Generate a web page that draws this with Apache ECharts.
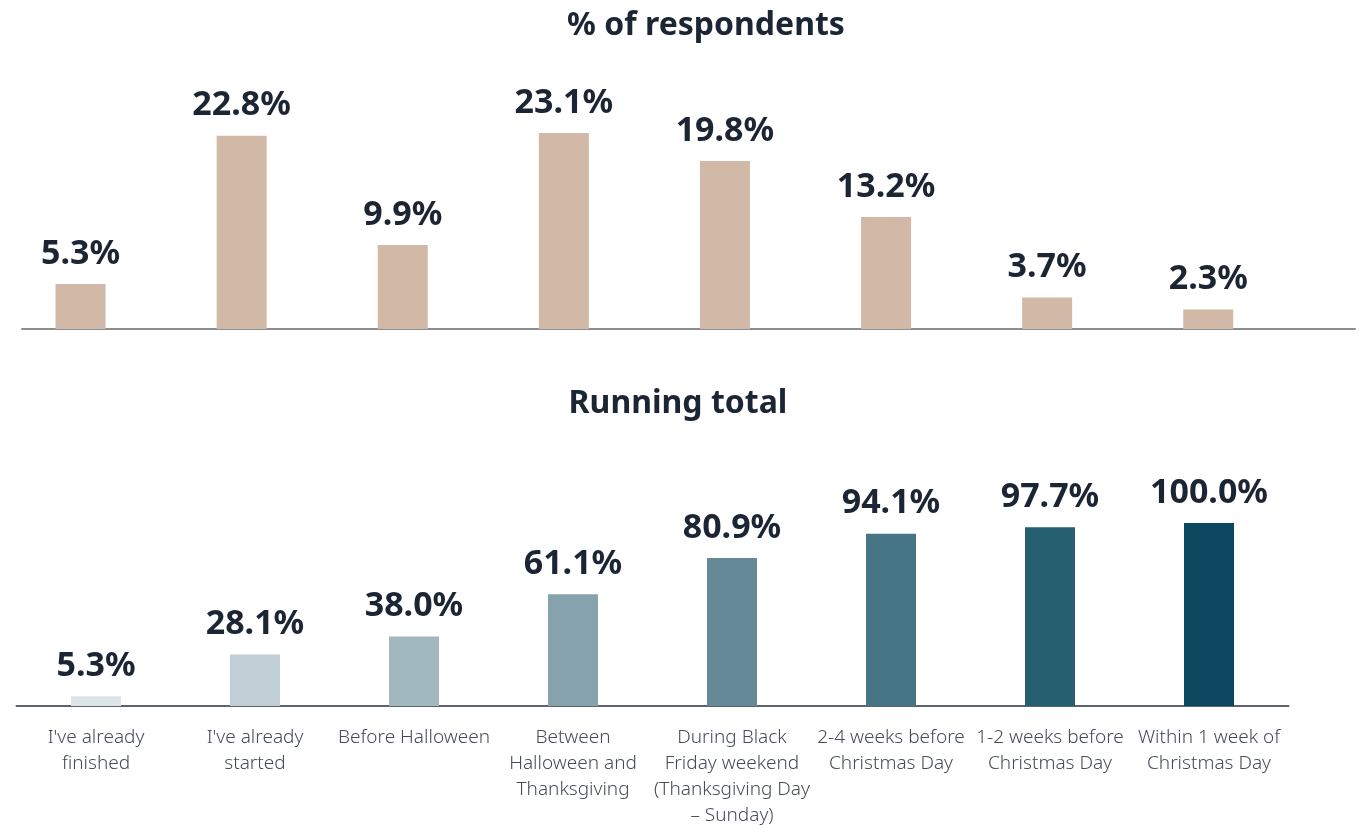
<!DOCTYPE html>
<html>
<head>
<meta charset="utf-8">
<title>Holiday shopping start</title>
<script src="https://cdn.jsdelivr.net/npm/echarts@6/dist/echarts.min.js"></script>
<style>
  html, body { margin: 0; padding: 0; background: #fff; }
  #container { width: 1360px; height: 829px; }
</style>
</head>
<body>
<div id="container"></div>
<script>
  // categories (x axis tick labels, as broken in the original)
  const categories = [
    "I've already\nfinished",
    "I've already\nstarted",
    'Before Halloween',
    'Between\nHalloween and\nThanksgiving',
    'During Black\nFriday weekend\n(Thanksgiving Day\n– Sunday)',
    '2-4 weeks before\nChristmas Day',
    '1-2 weeks before\nChristmas Day',
    'Within 1 week of\nChristmas Day'
  ]
  // % of respondents
  const shareData = [5.3, 22.8, 9.9, 23.1, 19.8, 13.2, 3.7, 2.3]
  // running total
  const totalData = [5.3, 28.1, 38.0, 61.1, 80.9, 94.1, 97.7, 100.0]
  const totalColors = ['#dde5e8', '#c0cfd6', '#a1b8bf', '#86a3ad', '#648a99', '#467585', '#255f70', '#0b475e']

  const font = '"Noto Sans", "Open Sans", sans-serif'
  const dark = '#1b2533'

  const dom = document.getElementById('container')
  const myChart = echarts.init(dom, null, { renderer: 'canvas' })

  const valueLabel = {
    show: true,
    position: 'top',
    distance: 13,
    fontFamily: font,
    fontWeight: 'bold',
    fontSize: 34,
    color: dark,
    formatter: function(p) {
      return p.value.toFixed(1) + '%'
    }
  }

  myChart.setOption({
    animation: false,
    backgroundColor: '#fff',
    title: [{
      text: '% of respondents',
      left: 701,
      top: 5,
      textAlign: 'center',
      textStyle: { fontFamily: font, fontWeight: 'bold', fontSize: 32, color: dark }
    }, {
      text: 'Running total',
      left: 673,
      top: 383,
      textAlign: 'center',
      textStyle: { fontFamily: font, fontWeight: 'bold', fontSize: 32, color: dark }
    }],
    grid: [
      { left: -1.6, width: 1290.4, top: 117, bottom: 500 },
      { left: 16.5, width: 1272, top: 523, bottom: 120 },
      // only carries the wider baseline of the top panel
      { left: 22, right: 5, top: 117, bottom: 500 }
    ],
    xAxis: [{
      type: 'category',
      gridIndex: 0,
      data: categories,
      axisLine: { show: false },
      axisTick: { show: false },
      axisLabel: { show: false }
    }, {
      type: 'category',
      gridIndex: 1,
      data: categories,
      axisLine: { show: true, lineStyle: { color: '#5d646c', width: 2 } },
      axisTick: { show: false },
      axisLabel: {
        interval: 0,
        margin: 19,
        fontFamily: font,
        fontWeight: 300,
        fontSize: 19,
        lineHeight: 26,
        color: '#454c58'
      }
    }, {
      type: 'value',
      gridIndex: 2,
      min: 0,
      max: 1,
      axisLine: { show: true, onZero: false, lineStyle: { color: '#8b8e92', width: 2 } },
      axisTick: { show: false },
      axisLabel: { show: false },
      splitLine: { show: false }
    }],
    yAxis: [
      { type: 'value', gridIndex: 0, min: 0, max: 25, show: false },
      { type: 'value', gridIndex: 1, min: 0, max: 100, show: false },
      { type: 'value', gridIndex: 2, min: 0, max: 1, show: false }
    ],
    series: [{
      name: '% of respondents',
      type: 'bar',
      xAxisIndex: 0,
      yAxisIndex: 0,
      barWidth: 50,
      itemStyle: { color: '#d1b8a7' },
      label: valueLabel,
      data: shareData,
      z: 3
    }, {
      name: 'Running total',
      type: 'bar',
      xAxisIndex: 1,
      yAxisIndex: 1,
      barWidth: 50,
      label: valueLabel,
      data: totalData.map(function(v, i) {
        return { value: v, itemStyle: { color: totalColors[i] } }
      })
    }]
  })
</script>
</body>
</html>
